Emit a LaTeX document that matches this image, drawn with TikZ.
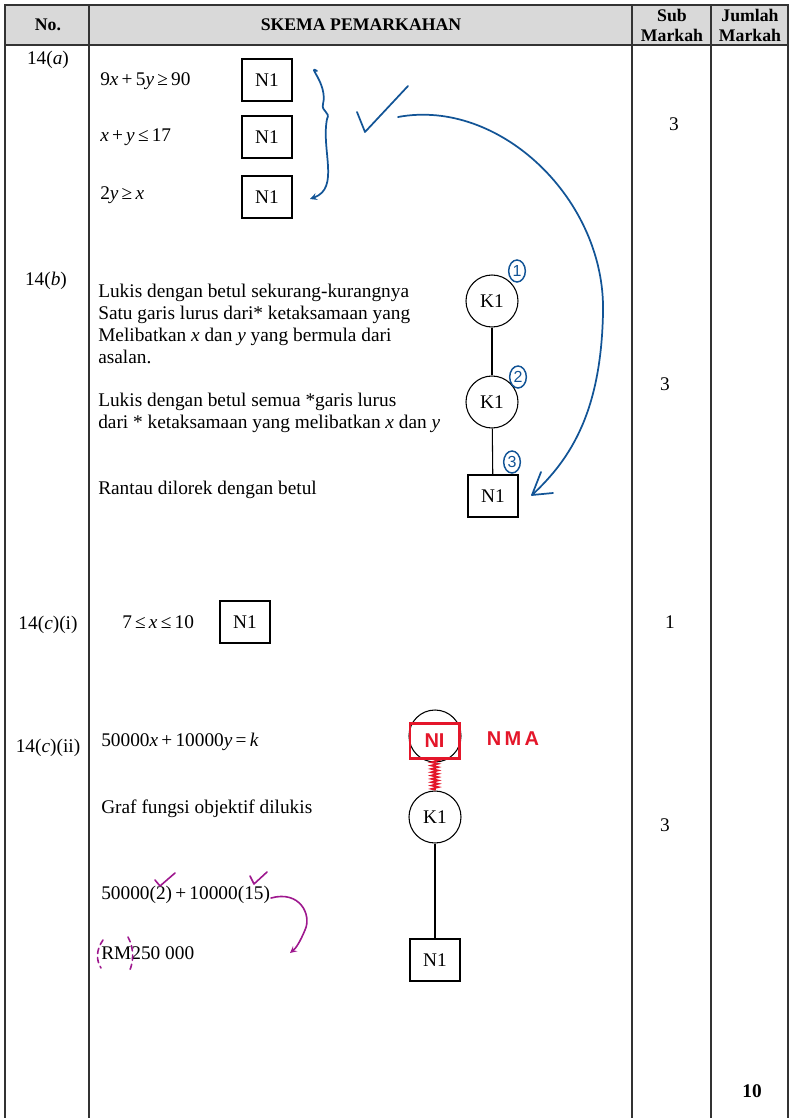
\documentclass[tikz,border=0pt]{standalone}
\usepackage{fontspec}
\setmainfont{Liberation Serif}
\newfontfamily\handfont{Liberation Sans}
\usetikzlibrary{decorations.pathmorphing,shapes.geometric}
\definecolor{pen}{RGB}{18,84,150}
\definecolor{redpen}{RGB}{228,22,42}
\definecolor{purplepen}{RGB}{158,24,142}
\definecolor{headgray}{RGB}{217,217,217}
\newcommand{\xv}{\textit{x}}
\newcommand{\yv}{\textit{y}}
\begin{document}
\begin{tikzpicture}[x=0.75pt,y=-0.75pt,>=stealth,
  every node/.style={font=\fontsize{14.5}{16.3}\selectfont},
  rule/.style={draw=black!80,line width=0.8pt},
  nbox/.style={draw,line width=0.8pt,minimum width=37.5pt,minimum height=31.5pt,inner sep=0pt},
  kcirc/.style={draw,circle,line width=0.8pt,minimum size=39pt,inner sep=0pt},
  txt/.style={anchor=west,inner sep=0pt,align=left},
  head/.style={font=\fontsize{13.3}{15}\selectfont\bfseries,align=center,inner sep=0pt},
  bluepen/.style={draw=pen,line width=1.3pt,line cap=round,line join=round},
  numcirc/.style={ellipse,draw=pen,text=pen,line width=1.1pt,inner sep=0pt,minimum width=12.5pt,minimum height=16.5pt,font=\handfont\fontsize{12}{12}\selectfont},
  redhand/.style={text=redpen,font=\handfont\bfseries\fontsize{15}{15}\selectfont},
  purplehand/.style={draw=purplepen,line width=1.2pt,line cap=round,line join=round}]
\useasboundingbox (0,0) rectangle (789,1118);

% 表の枠
\fill[headgray] (5,5) rectangle (788,45);
\draw[rule] (5,1118) -- (5,5) -- (788,5) -- (788,1118);
\draw[rule] (5,45) -- (788,45);
\draw[rule] (89,5) -- (89,1118);
\draw[rule] (632,5) -- (632,1118);
\draw[rule] (711,5) -- (711,1118);

% 見出し
\node[head] (hno) at (48,25) {No.};
\node[head] (hskema) at (361,25) {SKEMA PEMARKAHAN};
\node[head] (hsub) at (672,25) {Sub\\Markah};
\node[head] (hjumlah) at (750,25) {Jumlah\\Markah};

% 14(a)
\node (qa) at (48,60) {14(\textit{a})};
\node[txt] (a1) at (100,81) {9\xv\,+\,5\yv\,≥\,90};
\node[txt] (a2) at (100,137) {\xv\,+\,\yv\,≤\,17};
\node[txt] (a3) at (100,195) {2\yv\,≥\,\xv};
\node[nbox] (na1) at (267,80) {N1};
\node[nbox] (na2) at (267,137) {N1};
\node[nbox] (na3) at (267,197) {N1};
\node (ma) at (674,124) {3};

% 14(b)
\node (qb) at (46,281) {14(\textit{b})};
\node[txt] (b1) at (98,324) {Lukis dengan betul sekurang-kurangnya\\Satu garis lurus dari* ketaksamaan yang\\Melibatkan \xv\ dan \yv\ yang bermula dari\\asalan.};
\node[txt] (b2) at (98,413) {Lukis dengan betul semua *garis lurus\\dari * ketaksamaan yang melibatkan \xv\ dan \yv};
\node[txt] (b3) at (98,490) {Rantau dilorek dengan betul};
\node[kcirc] (kb1) at (492,301) {K1};
\node[kcirc] (kb2) at (492,402) {K1};
\node[nbox] (nb3) at (493,496) {N1};
\draw[line width=0.8pt] (kb1) -- (kb2);
\draw[line width=0.8pt] (kb2) -- (nb3);
\node (mb) at (665,384) {3};

% 14(c)(i)
\node (qci) at (48,625) {14(\textit{c})(i)};
\node[txt] (ci) at (122,622) {7\,≤\,\xv\,≤\,10};
\node[nbox] (nci) at (245,622) {N1};
\node (mci) at (670,622) {1};

% 14(c)(ii)
\node (qcii) at (48,748) {14(\textit{c})(ii)};
\node[txt] (cii1) at (101,742) {50000\xv\,+\,10000\yv\,=\,\textit{k}};
\node[txt] (cii2) at (101,809) {Graf fungsi objektif dilukis};
\node[txt] (cii3) at (101,895) {50000(2)\,+\,10000(15)};
\node[txt] (cii4) at (101,953) {RM250 000};
\node[kcirc] (kc1) at (435,736) {};
\node[kcirc] (kc2) at (435,817) {K1};
\node[nbox] (nc3) at (435,960) {N1};
\draw[line width=0.8pt] (kc1) -- (kc2);
\draw[line width=0.8pt] (kc2) -- (nc3);
\node (mcii) at (665,825) {3};

% 合計
\node[font=\fontsize{14.5}{16}\selectfont\bfseries] (total) at (752,1091) {10};

% 青ペンの書き込み
\draw[bluepen,->] (317,71) .. controls (306,64) and (328,84) .. (323,104)
  .. controls (321,112) and (331,112) .. (327,119)
  .. controls (321,150) and (340,188) .. (310,199);
\draw[bluepen] (357,112) -- (365,132) -- (408,86);
\coordinate (arrstart) at (398,117);
\coordinate (arrend) at (532,495);
\draw[bluepen] (arrstart) .. controls (500,98) and (606,200) .. (603,313)
  .. controls (601,410) and (572,458) .. (arrend) -- (553,493);
\draw[bluepen] (arrend) -- (541,472);
\node[numcirc] (c1) at (517,271) {1};
\node[numcirc] (c2) at (518,377) {2};
\node[numcirc] (c3) at (512,462) {3};

% 赤ペンの書き込み
\node[redhand,draw=redpen,line width=2pt,minimum width=37pt,minimum height=26pt,inner sep=0pt] (ni) at (434.5,741) {NI};
\node[redhand] (nma) at (513,739) {N\,M\,A};
\draw[redpen,line width=1.3pt,decorate,decoration={zigzag,amplitude=2.5pt,segment length=2.5pt}] (ni.south) -- (kc2.north);

% 紫ペンの書き込み
\draw[purplehand] (155,880) -- (160,886) -- (175,873);
\draw[purplehand] (250,876) -- (254,884) -- (267,872);
\coordinate (pstart) at (271,898);
\coordinate (pend) at (290,953);
\draw[purplehand,->] (pstart) .. controls (300,890) and (312,915) .. (305,930)
  .. controls (300,942) and (296,948) .. (pend);
\draw[purplehand,dashed,dash pattern=on 4pt off 3pt] (103,940) .. controls (96,950) and (96,960) .. (101,968);
\draw[purplehand,dashed,dash pattern=on 4pt off 3pt] (128,937) .. controls (134,948) and (134,962) .. (129,972);
\end{tikzpicture}
\end{document}
